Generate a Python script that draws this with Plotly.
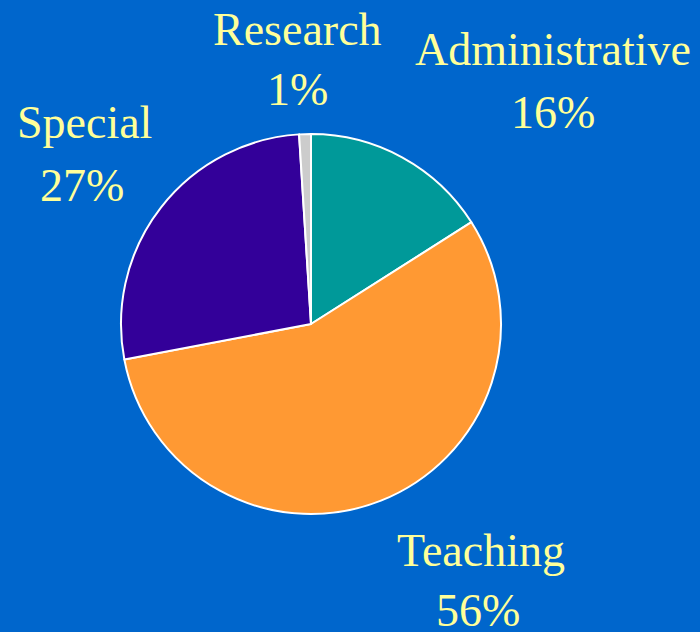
import plotly.graph_objects as go

labels = ["Administrative", "Teaching", "Special", "Research"]
values = [16, 56, 27, 1]
colors = ["#009999", "#FF9933", "#330099", "#CCCCCC"]

# label placement (pixel centres in a 700x632 canvas) for name and percent lines
label_xy = {
    "Administrative": ((553, 50), (553, 112)),
    "Teaching": ((481, 550), (478, 610)),
    "Special": ((84, 122), (82, 185)),
    "Research": ((297, 29), (297, 90)),
}

W, H = 700, 632
total = sum(values)

fig = go.Figure(go.Pie(
    labels=labels,
    values=values,
    sort=False,
    direction="clockwise",
    rotation=0,
    marker=dict(colors=colors, line=dict(color="white", width=2)),
    textinfo="none",
    hoverinfo="label+percent",
    showlegend=False,
    domain=dict(x=[(311 - 190) / W, (311 + 190) / W],
                y=[(H - 324 - 190) / H, (H - 324 + 190) / H]),
))

font = dict(family="Liberation Serif, Times New Roman, serif", size=46, color="#FFFF99")
annotations = []
for lab, val in zip(labels, values):
    (nx, ny), (px, py) = label_xy[lab]
    pct = f"{round(100 * val / total)}%"
    annotations.append(dict(x=nx / W, y=1 - ny / H, xref="paper", yref="paper",
                            text=lab, showarrow=False, font=font,
                            xanchor="center", yanchor="middle"))
    annotations.append(dict(x=px / W, y=1 - py / H, xref="paper", yref="paper",
                            text=pct, showarrow=False, font=font,
                            xanchor="center", yanchor="middle"))

fig.update_layout(
    width=W, height=H,
    margin=dict(l=0, r=0, t=0, b=0),
    paper_bgcolor="#0066CC",
    plot_bgcolor="#0066CC",
    font=dict(family="Liberation Serif, Times New Roman, serif"),
    annotations=annotations,
)

fig.write_html("out.html", config={"displayModeBar": False},
               post_script="document.body.style.margin='0';document.body.style.background='#0066CC';")
